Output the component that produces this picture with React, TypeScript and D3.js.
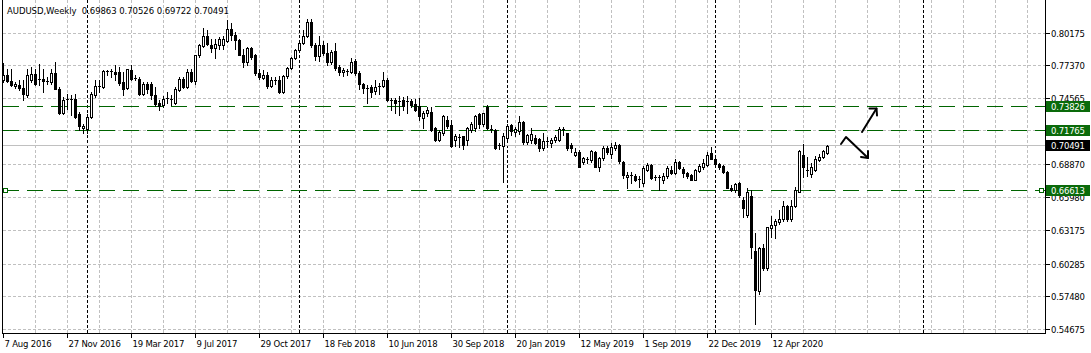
import React from 'react';
import * as d3 from 'd3';

const START_DATE = new Date(2016, 7, 7);
const TITLE = 'AUDUSD,Weekly  0.69863 0.70526 0.69722 0.70491';

const opens = [
  0.7610, 0.7653, 0.7604, 0.7558, 0.7570, 0.7547, 0.7481, 0.7610, 0.7662, 0.7612,
  0.7622, 0.7605, 0.7596, 0.7673, 0.7538, 0.7329, 0.7440, 0.7447, 0.7447, 0.7323,
  0.7200, 0.7194, 0.7295, 0.7486, 0.7553, 0.7553, 0.7682, 0.7688, 0.7682, 0.7682,
  0.7596, 0.7544, 0.7696, 0.7632, 0.7624, 0.7495, 0.7581, 0.7581, 0.7481, 0.7418,
  0.7395, 0.7452, 0.7449, 0.7418, 0.7524, 0.7624, 0.7553, 0.7682, 0.7601, 0.7825,
  0.7905, 0.7992, 0.7917, 0.7888, 0.7917, 0.7917, 0.7946, 0.8055, 0.7997, 0.7954,
  0.7831, 0.7768, 0.7888, 0.7825, 0.7676, 0.7633, 0.7653, 0.7564, 0.7616, 0.7610,
  0.7507, 0.7644, 0.7716, 0.7802, 0.7868, 0.7931, 0.7994, 0.8109, 0.7917, 0.7816,
  0.7917, 0.7845, 0.7765, 0.7860, 0.7725, 0.7679, 0.7693, 0.7679, 0.7773, 0.7673,
  0.7581, 0.7544, 0.7553, 0.7515, 0.7553, 0.7558, 0.7610, 0.7444, 0.7444, 0.7429,
  0.7444, 0.7429, 0.7429, 0.7409, 0.7390, 0.7290, 0.7329, 0.7334, 0.7200, 0.7099,
  0.7157, 0.7271, 0.7228, 0.7093, 0.7125, 0.7128, 0.7093, 0.7185, 0.7197, 0.7317,
  0.7231, 0.7380, 0.7191, 0.7182, 0.7045, 0.7048, 0.7116, 0.7225, 0.7168, 0.7174,
  0.7254, 0.7082, 0.7100, 0.7110, 0.7105, 0.7025, 0.7085, 0.7068, 0.7096, 0.7096,
  0.7190, 0.7154, 0.7053, 0.6970, 0.6990, 0.6910, 0.6925, 0.6922, 0.6996, 0.6868,
  0.6939, 0.7030, 0.6973, 0.7027, 0.7053, 0.6910, 0.6782, 0.6796, 0.6785, 0.6756,
  0.6724, 0.6842, 0.6882, 0.6782, 0.6767, 0.6755, 0.6784, 0.6840, 0.6812, 0.6907,
  0.6851, 0.6812, 0.6792, 0.6755, 0.6831, 0.6860, 0.6880, 0.6983, 0.6935, 0.6892,
  0.6870, 0.6821, 0.6687, 0.6664, 0.6727, 0.6584, 0.6449, 0.6613, 0.6145, 0.5795,
  0.6165, 0.5994, 0.6338, 0.6365, 0.6390, 0.6413, 0.6527, 0.6413, 0.6527, 0.6650,
  0.6964, 0.6838, 0.6807, 0.6841, 0.6926, 0.6949, 0.69863,
];

const highs = [
  0.7759, 0.7711, 0.7711, 0.7600, 0.7610, 0.7610, 0.7711, 0.7725, 0.7711, 0.7754,
  0.7711, 0.7639, 0.7711, 0.7768, 0.7553, 0.7467, 0.7495, 0.7481, 0.7495, 0.7338,
  0.7237, 0.7323, 0.7510, 0.7610, 0.7610, 0.7696, 0.7696, 0.7711, 0.7739, 0.7725,
  0.7682, 0.7711, 0.7745, 0.7653, 0.7639, 0.7596, 0.7596, 0.7596, 0.7553, 0.7438,
  0.7475, 0.7510, 0.7481, 0.7553, 0.7639, 0.7639, 0.7705, 0.7705, 0.7831, 0.7926,
  0.8061, 0.8040, 0.7963, 0.7963, 0.7983, 0.7990, 0.8127, 0.8106, 0.8026, 0.7969,
  0.7883, 0.7897, 0.7897, 0.7840, 0.7705, 0.7696, 0.7680, 0.7640, 0.7640, 0.7650,
  0.7660, 0.7725, 0.7810, 0.7880, 0.7945, 0.8040, 0.8138, 0.8138, 0.7930, 0.7989,
  0.7946, 0.7932, 0.7870, 0.7932, 0.7740, 0.7720, 0.7710, 0.7802, 0.7790, 0.7690,
  0.7590, 0.7573, 0.7573, 0.7610, 0.7590, 0.7680, 0.7630, 0.7458, 0.7460, 0.7472,
  0.7466, 0.7478, 0.7450, 0.7450, 0.7457, 0.7345, 0.7380, 0.7380, 0.7210, 0.7180,
  0.7315, 0.7300, 0.7271, 0.7150, 0.7150, 0.7135, 0.7210, 0.7250, 0.7310, 0.7330,
  0.7330, 0.7394, 0.7225, 0.7195, 0.7075, 0.7160, 0.7235, 0.7235, 0.7210, 0.7305,
  0.7260, 0.7150, 0.7200, 0.7140, 0.7110, 0.7154, 0.7120, 0.7110, 0.7140, 0.7206,
  0.7206, 0.7160, 0.7070, 0.7030, 0.7010, 0.6950, 0.6950, 0.7010, 0.7000, 0.6950,
  0.7045, 0.7045, 0.7070, 0.7082, 0.7060, 0.6920, 0.6820, 0.6820, 0.6800, 0.6785,
  0.6870, 0.6895, 0.6890, 0.6796, 0.6796, 0.6810, 0.6870, 0.6870, 0.6930, 0.6920,
  0.6860, 0.6820, 0.6800, 0.6850, 0.6890, 0.6935, 0.6990, 0.7035, 0.6940, 0.6900,
  0.6880, 0.6830, 0.6710, 0.6730, 0.6735, 0.6607, 0.6685, 0.6670, 0.6299, 0.6180,
  0.6200, 0.6350, 0.6445, 0.6420, 0.6490, 0.6570, 0.6540, 0.6580, 0.6690, 0.7010,
  0.7063, 0.6949, 0.6900, 0.6960, 0.6980, 0.7010, 0.70526,
];

const lows = [
  0.7596, 0.7596, 0.7558, 0.7545, 0.7530, 0.7444, 0.7467, 0.7596, 0.7567, 0.7567,
  0.7510, 0.7581, 0.7581, 0.7538, 0.7323, 0.7323, 0.7366, 0.7309, 0.7289, 0.7180,
  0.7160, 0.7160, 0.7289, 0.7467, 0.7510, 0.7547, 0.7653, 0.7639, 0.7617, 0.7567,
  0.7487, 0.7538, 0.7610, 0.7610, 0.7481, 0.7481, 0.7504, 0.7452, 0.7389, 0.7352,
  0.7381, 0.7418, 0.7395, 0.7409, 0.7518, 0.7544, 0.7544, 0.7596, 0.7581, 0.7811,
  0.7897, 0.7911, 0.7854, 0.7802, 0.7883, 0.7880, 0.7940, 0.7954, 0.7883, 0.7825,
  0.7725, 0.7739, 0.7797, 0.7653, 0.7625, 0.7619, 0.7545, 0.7550, 0.7580, 0.7500,
  0.7500, 0.7630, 0.7705, 0.7790, 0.7850, 0.7920, 0.7985, 0.7900, 0.7788, 0.7773,
  0.7830, 0.7742, 0.7750, 0.7700, 0.7659, 0.7650, 0.7660, 0.7670, 0.7660, 0.7535,
  0.7501, 0.7415, 0.7470, 0.7490, 0.7490, 0.7550, 0.7430, 0.7357, 0.7329, 0.7314,
  0.7357, 0.7329, 0.7380, 0.7343, 0.7271, 0.7200, 0.7300, 0.7170, 0.7085, 0.7085,
  0.7140, 0.7200, 0.7040, 0.7045, 0.7040, 0.7020, 0.7050, 0.7165, 0.7170, 0.7200,
  0.7220, 0.7190, 0.7165, 0.7020, 0.7015, 0.6733, 0.7100, 0.7140, 0.7130, 0.7150,
  0.7060, 0.7060, 0.7070, 0.7060, 0.7000, 0.7010, 0.7040, 0.7040, 0.7080, 0.7090,
  0.7140, 0.7010, 0.6990, 0.6960, 0.6865, 0.6890, 0.6900, 0.6910, 0.6860, 0.6830,
  0.6925, 0.6980, 0.6940, 0.7010, 0.6900, 0.6770, 0.6681, 0.6730, 0.6740, 0.6696,
  0.6700, 0.6830, 0.6760, 0.6753, 0.6667, 0.6730, 0.6770, 0.6800, 0.6805, 0.6850,
  0.6778, 0.6770, 0.6750, 0.6750, 0.6820, 0.6850, 0.6870, 0.6930, 0.6860, 0.6850,
  0.6810, 0.6680, 0.6660, 0.6650, 0.6610, 0.6435, 0.6435, 0.6080, 0.5515, 0.5770,
  0.5980, 0.5980, 0.6260, 0.6251, 0.6370, 0.6400, 0.6400, 0.6400, 0.6520, 0.6645,
  0.6778, 0.6784, 0.6780, 0.6830, 0.6920, 0.6940, 0.69722,
];

const closes = [
  0.7653, 0.7604, 0.7567, 0.7576, 0.7540, 0.7490, 0.7653, 0.7662, 0.7581, 0.7622,
  0.7604, 0.7596, 0.7673, 0.7538, 0.7329, 0.7438, 0.7447, 0.7444, 0.7295, 0.7214,
  0.7215, 0.7295, 0.7495, 0.7558, 0.7558, 0.7688, 0.7688, 0.7682, 0.7662, 0.7587,
  0.7538, 0.7705, 0.7619, 0.7630, 0.7495, 0.7581, 0.7538, 0.7481, 0.7409, 0.7389,
  0.7452, 0.7455, 0.7446, 0.7533, 0.7624, 0.7553, 0.7682, 0.7601, 0.7825, 0.7911,
  0.7992, 0.7926, 0.7888, 0.7926, 0.7963, 0.7969, 0.8055, 0.7997, 0.7954, 0.7831,
  0.7768, 0.7888, 0.7811, 0.7676, 0.7639, 0.7659, 0.7561, 0.7616, 0.7604, 0.7507,
  0.7644, 0.7716, 0.7802, 0.7868, 0.7931, 0.7994, 0.8109, 0.7917, 0.7822, 0.7917,
  0.7845, 0.7765, 0.7851, 0.7716, 0.7679, 0.7702, 0.7679, 0.7765, 0.7673, 0.7581,
  0.7544, 0.7547, 0.7507, 0.7553, 0.7564, 0.7610, 0.7438, 0.7441, 0.7415, 0.7432,
  0.7386, 0.7432, 0.7401, 0.7357, 0.7300, 0.7329, 0.7357, 0.7185, 0.7099, 0.7162,
  0.7300, 0.7214, 0.7048, 0.7134, 0.7120, 0.7056, 0.7200, 0.7237, 0.7300, 0.7231,
  0.7325, 0.7197, 0.7188, 0.7030, 0.7050, 0.7134, 0.7216, 0.7174, 0.7188, 0.7254,
  0.7082, 0.7139, 0.7145, 0.7070, 0.7025, 0.7088, 0.7080, 0.7096, 0.7125, 0.7188,
  0.7180, 0.7025, 0.7025, 0.6996, 0.6868, 0.6939, 0.6936, 0.6999, 0.6868, 0.6939,
  0.7030, 0.6996, 0.7039, 0.7050, 0.6916, 0.6796, 0.6796, 0.6798, 0.6756, 0.6758,
  0.6859, 0.6882, 0.6773, 0.6780, 0.6782, 0.6790, 0.6858, 0.6812, 0.6907, 0.6858,
  0.6812, 0.6784, 0.6755, 0.6841, 0.6871, 0.6900, 0.6971, 0.6935, 0.6892, 0.6864,
  0.6821, 0.6687, 0.6664, 0.6721, 0.6621, 0.6508, 0.6650, 0.6179, 0.5809, 0.6165,
  0.5994, 0.6345, 0.6365, 0.6402, 0.6419, 0.6527, 0.6413, 0.6527, 0.6664, 0.7006,
  0.6864, 0.6841, 0.6864, 0.6935, 0.6949, 0.7000, 0.70491,
];

const priceTicks = [0.80175, 0.7737, 0.74565, 0.7176, 0.6887, 0.6598, 0.63175, 0.60285, 0.5748, 0.54675];
const timeTickLabels = [
  '7 Aug 2016', '27 Nov 2016', '19 Mar 2017', '9 Jul 2017', '29 Oct 2017', '18 Feb 2018',
  '10 Jun 2018', '30 Sep 2018', '20 Jan 2019', '12 May 2019', '1 Sep 2019', '22 Dec 2019', '12 Apr 2020',
];
const levelLines = [0.73826, 0.71765, 0.66613];
const bidPrice = 0.70491;

const W = 1091;
const H = 353;
const LEFT = 2.5;
const RIGHT = 1045.5;
const BOTTOM = 333.5;
const BARS_PER_LABEL = 16;
const BARS_PER_GRID = 8;
const VISIBLE_BARS = 261;

const FONT = 'DejaVu Sans, Verdana, sans-serif';
const GREEN = '#006400';
const GREEN_LABEL = '#0a6a0a';
const GRID = '#c0c0c0';

const crisp = (v: number) => Math.floor(v) + 0.5;

export default function App() {
  const x = d3.scaleLinear().domain([0, 1]).range([3.5, 7.5]);
  const y = d3.scaleLinear().domain([0.54675, 0.80175]).range([329.3, 33.0]);

  const bars = opens.map((o, i) => ({ i, o, h: highs[i], l: lows[i], c: closes[i] }));

  const gridX = d3.range(BARS_PER_GRID, VISIBLE_BARS, BARS_PER_GRID).map((i) => x(i)).filter((v) => v < RIGHT - 2);

  const separators: number[] = [];
  for (let i = 1; i < VISIBLE_BARS; i++) {
    const a = d3.timeWeek.offset(START_DATE, i - 1);
    const b = d3.timeWeek.offset(START_DATE, i);
    if (a.getFullYear() !== b.getFullYear()) separators.push(i);
  }

  const textStyle: React.CSSProperties = { fontFamily: FONT, fontSize: 8.5, letterSpacing: -0.2 };
  const titleStyle: React.CSSProperties = { fontFamily: FONT, fontSize: 8.5, letterSpacing: -0.05 };

  const candles = bars.map((b) => {
    const cx = x(b.i);
    const yh = Math.round(y(b.h));
    const yl = Math.round(y(b.l));
    const yo = Math.round(y(b.o));
    const yc = Math.round(y(b.c));
    const top = Math.min(yo, yc);
    const bot = Math.max(yo, yc);
    const bull = b.c > b.o;
    const els: React.ReactNode[] = [];
    els.push(<line key="w" x1={cx} x2={cx} y1={yh} y2={yl + 1} stroke="#000" strokeWidth={1} />);
    if (bot - top < 2) {
      els.push(<rect key="b" x={cx - 1.5} y={top} width={3} height={Math.max(1, bot - top)} fill="#000" />);
    } else if (bull) {
      els.push(
        <rect key="b" x={cx - 1} y={top + 0.5} width={2} height={bot - top} fill="#fff" stroke="#000" strokeWidth={1} />
      );
    } else {
      els.push(<rect key="b" x={cx - 1.5} y={top} width={3} height={bot - top + 1} fill="#000" />);
    }
    return <g key={b.i}>{els}</g>;
  });

  return (
    <svg
      width={W}
      height={H}
      viewBox={`0 0 ${W} ${H}`}
      style={{ position: 'absolute', left: 0, top: 0, background: '#fff', display: 'block' }}
      shapeRendering="crispEdges"
    >
      <rect x={0} y={0} width={W} height={H} fill="#fff" />
      {priceTicks.map((p) => (
        <line key={'hg' + p} x1={LEFT} x2={RIGHT} y1={crisp(y(p))} y2={crisp(y(p))} stroke={GRID} strokeDasharray="3,2" />
      ))}
      {gridX.map((gx) => (
        <line key={'vg' + gx} x1={gx} x2={gx} y1={0} y2={BOTTOM} stroke={GRID} strokeDasharray="3,2" />
      ))}
      {separators.map((i) => (
        <line key={'sep' + i} x1={x(i)} x2={x(i)} y1={0} y2={BOTTOM} stroke="#000" strokeDasharray="3,2" />
      ))}
      <line x1={LEFT} x2={RIGHT} y1={crisp(y(bidPrice))} y2={crisp(y(bidPrice))} stroke={GRID} />
      {levelLines.map((p) => (
        <line key={'lv' + p} x1={3} x2={RIGHT} y1={crisp(y(p))} y2={crisp(y(p))} stroke={GREEN} strokeDasharray="16,8" />
      ))}
      {candles}
      <rect x={3.5} y={crisp(y(levelLines[2])) - 2} width={4} height={4} fill="#fff" stroke={GREEN} />
      <rect x={1039.5} y={crisp(y(levelLines[2])) - 2} width={4} height={4} fill="#fff" stroke={GREEN} />
      <g fill="none" stroke="#000" strokeWidth={2} strokeLinecap="round" strokeLinejoin="round" shapeRendering="auto">
        <polyline points="841,144 846,137 868,158" />
        <polyline points="868,151 868,158 861,157" />
        <line x1={862} y1={132} x2={876.5} y2={108.5} />
        <polyline points="869.5,108.5 876.5,108.5 877,115.5" />
      </g>
      <line x1={LEFT} x2={LEFT} y1={0} y2={BOTTOM} stroke="#000" />
      <line x1={RIGHT} x2={RIGHT} y1={0} y2={BOTTOM} stroke="#000" />
      <line x1={LEFT} x2={RIGHT} y1={BOTTOM} y2={BOTTOM} stroke="#000" />
      {priceTicks.map((p) => (
        <g key={'pt' + p}>
          <line x1={RIGHT} x2={RIGHT + 4} y1={crisp(y(p))} y2={crisp(y(p))} stroke="#000" />
          <text x={1051} y={crisp(y(p)) + 3.5} style={textStyle} fill="#000">
            {d3.format('.5f')(p)}
          </text>
        </g>
      ))}
      {levelLines.map((p) => (
        <g key={'lb' + p}>
          <rect x={1046} y={crisp(y(p)) - 5.5} width={44} height={11} fill={GREEN_LABEL} />
          <text x={1051} y={crisp(y(p)) + 3.5} style={textStyle} fill="#fff">
            {d3.format('.5f')(p)}
          </text>
        </g>
      ))}
      <rect x={1046} y={crisp(y(bidPrice)) - 5.5} width={44} height={11} fill="#000" />
      <text x={1051} y={crisp(y(bidPrice)) + 3.5} style={textStyle} fill="#fff">
        {d3.format('.5f')(bidPrice)}
      </text>
      {timeTickLabels.map((lab, k) => {
        const tx = x(k * BARS_PER_LABEL);
        return (
          <g key={'tt' + k}>
            <line x1={tx} x2={tx} y1={BOTTOM} y2={BOTTOM + 4} stroke="#000" />
            <text x={tx + 1} y={347} style={textStyle} fill="#000">
              {lab}
            </text>
          </g>
        );
      })}
      <text x={7} y={14} style={titleStyle} fill="#000" xmlSpace="preserve">
        {TITLE}
      </text>
    </svg>
  );
}
